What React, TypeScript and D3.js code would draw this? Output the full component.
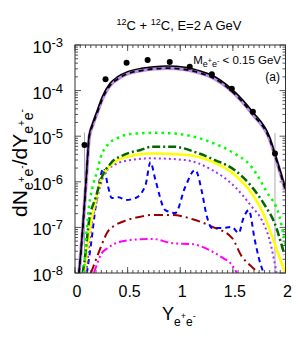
import * as d3 from 'd3';

// total (black solid) and the lavender/black-dashed companion
const totX = [0.038, 0.057, 0.082, 0.108, 0.135, 0.17, 0.214, 0.26, 0.333, 0.406, 0.5, 0.63, 0.75, 0.877, 1.047, 1.2, 1.297, 1.49, 1.689, 1.849, 1.9, 1.943, 2.0];
const totY = [1e-8, 3.2e-8, 1.9e-7, 1.4e-6, 1.07e-5, 2.0e-5, 3.8e-5, 7.4e-5, 1.45e-4, 2.02e-4, 2.6e-4, 3.08e-4, 3.35e-4, 3.47e-4, 3.25e-4, 2.65e-4, 2.2e-4, 1.08e-4, 3.4e-5, 9.6e-6, 4.2e-6, 2.0e-6, 7.3e-7];
const lavY = [1e-8, 3.0e-8, 1.7e-7, 1.25e-6, 9.5e-6, 1.8e-5, 3.4e-5, 6.6e-5, 1.3e-4, 1.8e-4, 2.35e-4, 2.75e-4, 3.0e-4, 3.1e-4, 2.9e-4, 2.38e-4, 1.97e-4, 9.7e-5, 3.0e-5, 8.6e-6, 3.8e-6, 1.8e-6, 6.5e-7];

const grnX = [0.085, 0.094, 0.12, 0.135, 0.167, 0.214, 0.245, 0.309, 0.403, 0.528, 0.623, 0.764, 0.877, 1.057, 1.283, 1.491, 1.679, 1.821, 1.943, 1.99, 2.0];
const grnY = [1e-8, 2.5e-8, 1.45e-7, 3.1e-7, 7.7e-7, 1.82e-6, 3.5e-6, 6.4e-6, 9.1e-6, 1.12e-5, 1.16e-5, 1.19e-5, 1.17e-5, 1.06e-5, 7.5e-6, 4.5e-6, 2.1e-6, 6.0e-7, 1.7e-7, 5.3e-8, 4e-8];

const dgX = [0.073, 0.088, 0.135, 0.198, 0.245, 0.34, 0.465, 0.623, 0.736, 0.925, 1.176, 1.33, 1.519, 1.679, 1.802, 1.896, 1.99];
const dgY = [1e-8, 1.66e-8, 1.45e-7, 4.6e-7, 1.1e-6, 2.55e-6, 3.9e-6, 5.0e-6, 5.9e-6, 5.9e-6, 4.2e-6, 3.0e-6, 1.8e-6, 7.8e-7, 3.1e-7, 1.25e-7, 2.5e-8];

const yelX = [0.088, 0.151, 0.198, 0.245, 0.34, 0.497, 0.717, 1.047, 1.302, 1.519, 1.679, 1.802, 1.884, 1.993];
const yelY = [1e-8, 1.25e-7, 4.0e-7, 1.1e-6, 2.33e-6, 3.55e-6, 4.2e-6, 3.9e-6, 2.76e-6, 1.41e-6, 5.6e-7, 1.72e-7, 5.3e-8, 1.05e-8];

const purX = [0.108, 0.151, 0.198, 0.276, 0.371, 0.528, 0.717, 1.047, 1.302, 1.519, 1.679, 1.774, 1.849, 1.915];
const purY = [1e-8, 8.7e-8, 3.1e-7, 1.41e-6, 2.33e-6, 3.0e-6, 3.27e-6, 3.0e-6, 1.82e-6, 7.8e-7, 2.85e-7, 1.45e-7, 5.3e-8, 1e-8];

const bluX = [0.113, 0.151, 0.198, 0.245, 0.274, 0.311, 0.349, 0.415, 0.481, 0.575, 0.67, 0.717, 0.764, 0.858, 0.953, 1.047, 1.142, 1.208, 1.245, 1.302, 1.396, 1.49, 1.557, 1.594, 1.651, 1.708, 1.745, 1.792];
const bluY = [1e-8, 4.1e-8, 3.1e-7, 1.41e-6, 2.0e-6, 8.5e-7, 4.4e-7, 4.6e-7, 4.0e-7, 4.4e-7, 8.5e-7, 2.7e-6, 1.1e-6, 2.4e-7, 2.07e-7, 7.7e-7, 1.82e-6, 5.7e-7, 2.07e-7, 9.7e-8, 9.7e-8, 1.02e-7, 7.5e-8, 1.45e-7, 2.4e-7, 5.3e-8, 2.2e-8, 1e-8];

const redX = [0.151, 0.198, 0.245, 0.309, 0.387, 0.497, 0.623, 0.736, 0.925, 1.142, 1.302, 1.491, 1.585, 1.679, 1.745];
const redY = [1e-8, 1.93e-8, 3.7e-8, 7.9e-8, 1.13e-7, 1.45e-7, 1.72e-7, 1.87e-7, 1.87e-7, 1.45e-7, 1.04e-7, 5.9e-8, 2.3e-8, 1.37e-8, 1e-8];

const magX = [0.179, 0.217, 0.245, 0.309, 0.387, 0.528, 0.736, 0.925, 1.113, 1.274, 1.396, 1.491, 1.538];
const magY = [1e-8, 1.74e-8, 2.5e-8, 3.5e-8, 4.5e-8, 5.3e-8, 5.6e-8, 4.5e-8, 4.3e-8, 3.2e-8, 2.2e-8, 1.5e-8, 1e-8];

// measured points
const ptX = [0.09, 0.29, 0.49, 0.69, 0.9, 1.09, 1.3, 1.49, 1.69, 1.9];
const ptY = [6.4e-6, 1.77e-4, 4.09e-4, 4.69e-4, 4.24e-4, 3.34e-4, 2.27e-4, 1.1e-4, 3.45e-5, 4.2e-6];
const errX = [0.09, 1.9];
const errHi = [1.2e-5, 1.17e-5];
const errLo = [1e-9, 1e-9];

const xMajor = [0, 0.5, 1, 1.5, 2];
const xLabels = ['0', '0.5', '1', '1.5', '2'];
const yExp = [-3, -4, -5, -6, -7, -8];

const L = 75, R = 285.5, T = 45, B = 273;
const FONT = 'Liberation Sans, Arial, Helvetica, sans-serif';

export default function App() {
  const x = d3.scaleLinear().domain([0, 2]).range([L, R]);
  const y = d3.scaleLog().domain([1e-8, 1e-3]).range([B, T]);
  const path = (xs: number[], ys: number[]) => {
    const pts: [number, number][] = xs.map((v, i) => [x(v), y(ys[i])]);
    return d3.line().curve(d3.curveMonotoneX)(pts) || '';
  };

  const xMinor = d3.range(0, 2.0001, 0.05);
  const yMinor: number[] = [];
  for (let e = -8; e < -3; e++) for (let k = 2; k < 10; k++) yMinor.push(k * 10 ** e);

  const tickColor = '#555';

  return (
    <svg width={304} height={346} style={{ position: 'absolute', left: 0, top: 0, background: '#fff' }} fontFamily={FONT}>
      <defs>
        <clipPath id="plot"><rect x={L} y={T} width={R - L} height={B - T} /></clipPath>
      </defs>

      {/* title */}
      <text x={179} y={30} textAnchor="middle" fontSize={13} fill="#000">
        <tspan fontSize={9} dy={-5}>12</tspan>
        <tspan dy={5}>C + </tspan>
        <tspan fontSize={9} dy={-5}>12</tspan>
        <tspan dy={5}>C, E=2 A GeV</tspan>
      </text>

      {/* ticks */}
      <g stroke={tickColor} strokeWidth={1}>
        {xMinor.map((v, i) => (
          <g key={'xm' + i}>
            <line x1={x(v)} x2={x(v)} y1={B} y2={B - 3} />
            <line x1={x(v)} x2={x(v)} y1={T} y2={T + 3} />
          </g>
        ))}
        {xMajor.map((v, i) => (
          <g key={'xM' + i}>
            <line x1={x(v)} x2={x(v)} y1={B} y2={B - 6} />
            <line x1={x(v)} x2={x(v)} y1={T} y2={T + 6} />
          </g>
        ))}
        {yMinor.map((v, i) => (
          <g key={'ym' + i}>
            <line x1={L} x2={L + 3} y1={y(v)} y2={y(v)} />
            <line x1={R} x2={R - 3} y1={y(v)} y2={y(v)} />
          </g>
        ))}
        {yExp.map((e) => (
          <g key={'yM' + e}>
            <line x1={L} x2={L + 6} y1={y(10 ** e)} y2={y(10 ** e)} />
            <line x1={R} x2={R - 6} y1={y(10 ** e)} y2={y(10 ** e)} />
          </g>
        ))}
      </g>

      {/* curves */}
      <g clipPath="url(#plot)" fill="none">
        <line x1={x(errX[0])} x2={x(errX[0])} y1={y(errHi[0])} y2={y(errLo[0])} stroke="#aaa" strokeWidth={1} />
        <line x1={x(errX[1])} x2={x(errX[1])} y1={y(errHi[1])} y2={y(errLo[1])} stroke="#aaa" strokeWidth={1} />
        <path d={path(magX, magY)} stroke="#ff00ff" strokeWidth={2} strokeDasharray="8,3,2,3,2,3" />
        <path d={path(redX, redY)} stroke="#990000" strokeWidth={2} strokeDasharray="9,4,2,4" />
        <path d={path(bluX, bluY)} stroke="#0000ff" strokeWidth={2} strokeDasharray="5,4" />
        <path d={path(purX, purY)} stroke="#9933ff" strokeWidth={2} strokeDasharray="2,3" />
        <path d={path(yelX, yelY)} stroke="#ffff00" strokeWidth={2.5} />
        <path d={path(dgX, dgY)} stroke="#006600" strokeWidth={2.5} strokeDasharray="8,3,2,3" />
        <path d={path(grnX, grnY)} stroke="#00ff00" strokeWidth={2.5} strokeDasharray="2.5,4" />
        <path d={path(totX, lavY)} stroke="#bb88ee" strokeWidth={3.5} />
        <path d={path(totX, lavY)} stroke="#000" strokeWidth={1.8} strokeDasharray="5,4" />
        <path d={path(totX, totY)} stroke="#000" strokeWidth={1.5} />
        {ptX.map((v, i) => (
          <circle key={'p' + i} cx={x(v)} cy={y(ptY[i])} r={3} fill="#000" />
        ))}
      </g>

      <rect x={L} y={T} width={R - L} height={B - T} fill="none" stroke="#333" strokeWidth={1} />

      {/* y tick labels */}
      {yExp.map((e) => (
        <text key={'yl' + e} x={63} y={y(10 ** e) + 8} textAnchor="end" fontSize={17} fill="#000">
          <tspan>10</tspan>
          <tspan fontSize={13} dy={-6}>{String(e)}</tspan>
        </text>
      ))}

      {/* x tick labels */}
      {xMajor.map((v, i) => (
        <text key={'xl' + i} x={x(v) + 2} y={297} textAnchor="middle" fontSize={16} fill="#000">{xLabels[i]}</text>
      ))}

      {/* legend */}
      <text x={281} y={64} textAnchor="end" fontSize={11.5} fill="#000">
        <tspan>M</tspan>
        <tspan fontSize={9} dy={3}>e</tspan>
        <tspan fontSize={7} dy={-4}>+</tspan>
        <tspan fontSize={9} dy={4}>e</tspan>
        <tspan fontSize={7} dy={-4}>-</tspan>
        <tspan dy={1}> &lt; 0.15 GeV</tspan>
      </text>
      <text x={280} y={81} textAnchor="end" fontSize={12} fill="#000">(a)</text>

      {/* x axis title */}
      <text x={162} y={320} fontSize={18} fill="#000">
        <tspan>Y</tspan>
        <tspan fontSize={12} dy={6}>e</tspan>
        <tspan fontSize={9} dy={-7}>+</tspan>
        <tspan fontSize={12} dy={7}>e</tspan>
        <tspan fontSize={9} dy={-7}>-</tspan>
      </text>

      {/* y axis title */}
      <text transform="translate(27,163) rotate(-90)" textAnchor="middle" fontSize={21} fill="#000">
        <tspan>dN</tspan>
        <tspan fontSize={14} dy={6}>e</tspan>
        <tspan fontSize={10} dy={-8}>+</tspan>
        <tspan fontSize={14} dy={8}>e</tspan>
        <tspan fontSize={10} dy={-8}>-</tspan>
        <tspan dy={2}>/dY</tspan>
        <tspan fontSize={14} dy={6}>e</tspan>
        <tspan fontSize={10} dy={-8}>+</tspan>
        <tspan fontSize={14} dy={8}>e</tspan>
        <tspan fontSize={10} dy={-8}>-</tspan>
      </text>
    </svg>
  );
}
